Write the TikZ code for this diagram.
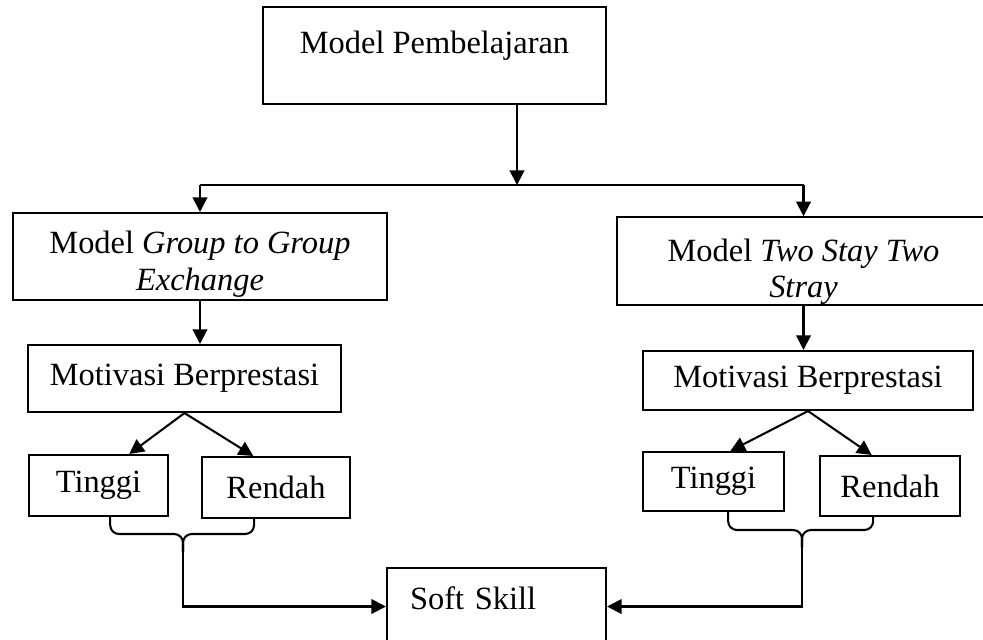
\documentclass[tikz,border=0pt]{standalone}
\usepackage{fontspec}
\setmainfont{Liberation Serif}
\usetikzlibrary{arrows.meta,calc}
\newlength\pxu
\setlength\pxu{0.01365cm}

\begin{document}
\begin{tikzpicture}[x=\pxu,y=-\pxu,line width=0.8pt,
    box/.style={draw,rectangle,inner sep=0pt,align=center,font=\fontsize{12.6}{14.2}\selectfont},
    arr/.style={-{Triangle[length=0.2cm,width=0.2cm]}}]
    \useasboundingbox (0,0) rectangle (983,639);
    \clip (0,0) rectangle (983,639);
    \node[box,minimum width=343\pxu,text height=46\pxu,text depth=51\pxu] (model) at (434.5,55.5) {Model Pembelajaran};
    \node[box,minimum width=374\pxu,minimum height=87\pxu] (ggx) at (200,256.5) {\rule{0pt}{0.52cm}Model \textit{Group to Group}\\\textit{Exchange}};
    \node[box,minimum width=373\pxu,minimum height=82\pxu] (tsts) at (803.5,261) {\rule{0pt}{0.6cm}Model \textit{Two Stay Two}\\\textit{Stray}};
    \node[box,minimum width=313\pxu,minimum height=67\pxu] (motA) at (184.5,378.5) {Motivasi Berprestasi};
    \node[box,minimum width=330\pxu,minimum height=59\pxu] (motB) at (808,380.5) {Motivasi Berprestasi};
    \node[box,minimum width=139\pxu,minimum height=61\pxu] (tinA) at (98.5,485.5) {Tinggi};
    \node[box,minimum width=148\pxu,minimum height=61\pxu] (renA) at (276,487.5) {Rendah};
    \node[box,minimum width=141\pxu,minimum height=59\pxu] (tinB) at (713.5,481.5) {Tinggi};
    \node[box,minimum width=140\pxu,minimum height=60\pxu] (renB) at (890,486) {Rendah};
    \node[box,align=left,inner xsep=23\pxu,text width=173\pxu,text height=41\pxu,text depth=36\pxu] (soft) at (496.5,606.5) {Soft Skill};
    \coordinate (split) at (517,185);
    \coordinate (bA) at (183,552);
    \coordinate (bB) at (802,547);
    % top split
    \draw[arr] (split |- model.south) -- (split);
    \draw (split -| ggx.north) -- (split -| tsts.north);
    \draw[arr] (split -| ggx.north) -- (ggx.north);
    \draw[arr] (split -| tsts.north) -- (tsts.north);
    \draw[arr] (ggx.south) -- (ggx.south |- motA.north);
    \draw[arr] (tsts.south) -- (tsts.south |- motB.north);
    % motivasi to levels
    \draw[arr] (motA.south) -- ([xshift=0.42cm]tinA.north);
    \draw[arr] (motA.south) -- ([xshift=-0.31cm]renA.north);
    \draw[arr] (motB.south) -- ([xshift=0.23cm]tinB.north);
    \draw[arr] (motB.south) -- ([xshift=-0.25cm]renB.north);
    % braces
    \draw[rounded corners=0.12cm] ([xshift=0.16cm]tinA.south) |- ($(bA)+(0,-18)$) -- (bA);
    \draw[rounded corners=0.12cm] ([xshift=-0.3cm]renA.south) |- ($(bA)+(0,-18)$) -- (bA);
    \draw[rounded corners=0.12cm] ([xshift=0.2cm]tinB.south) |- ($(bB)+(0,-17)$) -- (bB);
    \draw[rounded corners=0.12cm] ([xshift=-0.23cm]renB.south) |- ($(bB)+(0,-17)$) -- (bB);
    \draw[arr] (bA) |- (soft.west);
    \draw[arr] (bB) |- (soft.east);
\end{tikzpicture}
\end{document}
